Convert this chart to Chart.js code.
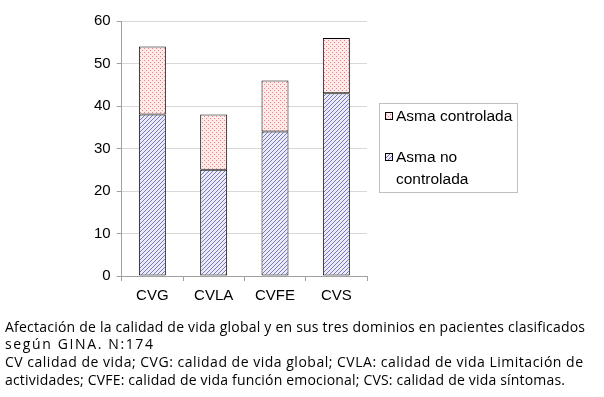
<!DOCTYPE html>
<html><head><meta charset="utf-8">
<script src="https://cdn.jsdelivr.net/npm/chart.js@4/dist/chart.umd.min.js"></script>
<style>
html,body{margin:0;padding:0;background:#fff;}
#wrap{position:relative;width:604px;height:397px;overflow:hidden;}
canvas{position:absolute;left:0;top:0;}
.cap{position:absolute;left:5px;font-family:"Open Sans",sans-serif;font-size:14px;color:#000;white-space:nowrap;line-height:16px;}
</style></head>
<body><div id="wrap"><canvas id="c" width="604" height="397"></canvas>
<div class="cap" data-w="580" style="top:319px">Afectación de la calidad de vida global y en sus tres dominios en pacientes clasificados</div>
<div class="cap" data-w="148" style="top:336px">según GINA. N:174</div>
<div class="cap" data-w="578" style="top:354px">CV calidad de vida; CVG: calidad de vida global; CVLA: calidad de vida Limitación de</div>
<div class="cap" data-w="560" style="top:372px">actividades; CVFE: calidad de vida función emocional; CVS: calidad de vida síntomas.</div>
</div>
<script>
const categories = ["CVG", "CVLA", "CVFE", "CVS"];
const noControlada = [38, 25, 34, 43];
const controlada = [16, 13, 12, 13];
const yTicks = [0, 10, 20, 30, 40, 50, 60];
const seriesLabels = ["Asma no controlada", "Asma controlada"];

document.querySelectorAll('.cap').forEach(el => {
  const target = +el.dataset.w;
  const n = el.textContent.length;
  const w = el.getBoundingClientRect().width;
  el.style.letterSpacing = ((target - w) / (n - 1)) + 'px';
});

function dotPattern() {
  const c = document.createElement('canvas'); c.width = 4; c.height = 4;
  const x = c.getContext('2d');
  x.fillStyle = '#fcebeb'; x.fillRect(0, 0, 4, 4);
  x.fillStyle = '#d88a8a'; x.fillRect(0, 0, 1, 1); x.fillRect(2, 2, 1, 1);
  return x.createPattern(c, 'repeat');
}
function hatchPattern() {
  const n = 4;
  const c = document.createElement('canvas'); c.width = n; c.height = n;
  const x = c.getContext('2d');
  x.fillStyle = '#eaeaf8'; x.fillRect(0, 0, n, n);
  x.fillStyle = '#7a7ab8';
  for (let i = 0; i < n; i++) x.fillRect(i, n - 1 - i, 1, 1);
  return x.createPattern(c, 'repeat');
}
const pDots = dotPattern(), pHatch = hatchPattern();

const legendPlugin = {
  id: 'boxLegend',
  afterDraw(chart) {
    const ctx = chart.ctx;
    ctx.save();
    ctx.strokeStyle = '#c0c0c0'; ctx.lineWidth = 1;
    ctx.strokeRect(379.5, 103.5, 138, 89);
    ctx.font = '15.5px "Liberation Sans", Arial, sans-serif';
    ctx.textBaseline = 'middle';
    const items = [
      { fill: pDots, lines: [seriesLabels[1]], y: 117 },
      { fill: pHatch, lines: ["Asma no", "controlada"], y: 158 }
    ];
    items.forEach(it => {
      ctx.fillStyle = it.fill; ctx.fillRect(386, it.y - 4, 7, 7);
      ctx.strokeStyle = '#000'; ctx.strokeRect(385.5, it.y - 4.5, 7, 7);
      ctx.fillStyle = '#000';
      it.lines.forEach((t, i) => ctx.fillText(t, 396, it.y + i * 22));
    });
    ctx.restore();
  }
};

new Chart(document.getElementById('c'), {
  type: 'bar',
  data: {
    labels: categories,
    datasets: [
      { label: seriesLabels[0], data: noControlada, backgroundColor: pHatch, borderColor: '#000', borderWidth: 1, borderSkipped: false },
      { label: seriesLabels[1], data: controlada, backgroundColor: pDots, borderColor: '#000', borderWidth: 1, borderSkipped: false }
    ]
  },
  options: {
    responsive: false, animation: false,
    layout: { padding: { left: 88, right: 237, top: 21, bottom: 86 } },
    plugins: { legend: { display: false }, tooltip: { enabled: false } },
    datasets: { bar: { categoryPercentage: 1, barPercentage: 0.44 } },
    scales: {
      x: {
        stacked: true,
        grid: { display: true, drawOnChartArea: false, drawTicks: true, tickLength: 5, color: '#a0a0a0', offset: true },
        border: { color: '#a0a0a0' },
        ticks: { color: '#000', font: { size: 15, family: '"Liberation Sans", Arial, sans-serif' }, padding: 6 }
      },
      y: {
        stacked: true, min: 0, max: 60,
        afterBuildTicks(s) { s.ticks = yTicks.map(v => ({ value: v })); },
        grid: { color: '#d8d8d8', tickLength: 5, tickColor: '#a0a0a0' },
        border: { color: '#a0a0a0' },
        ticks: { color: '#000', font: { size: 15, family: '"Liberation Sans", Arial, sans-serif' }, padding: 6 }
      }
    }
  },
  plugins: [legendPlugin]
});
</script></body></html>
